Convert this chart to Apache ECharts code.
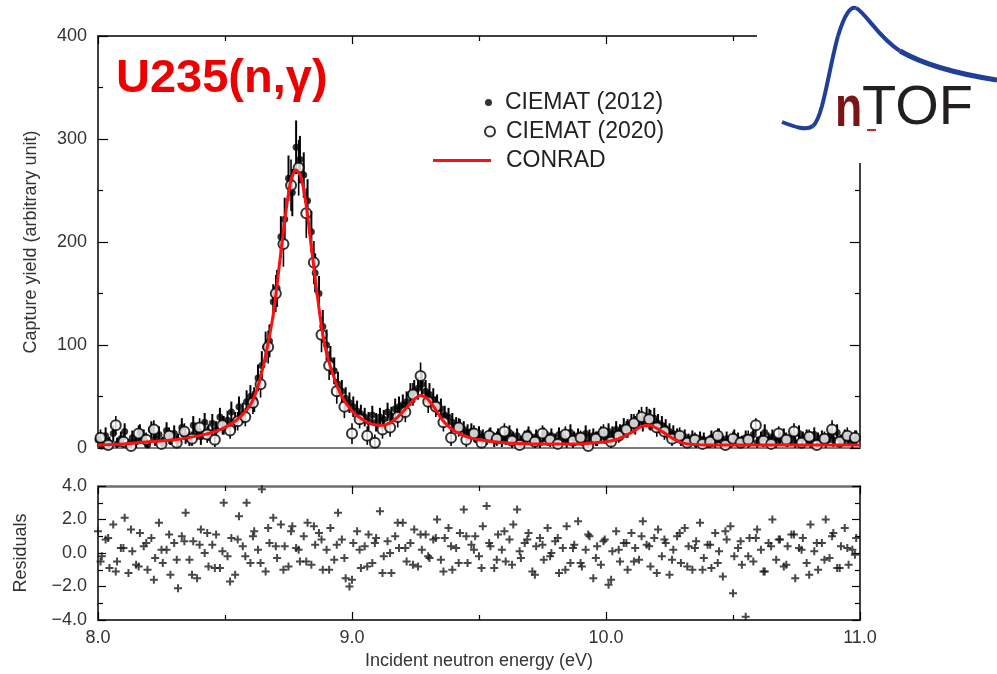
<!DOCTYPE html>
<html>
<head>
<meta charset="utf-8">
<script src="https://cdn.jsdelivr.net/npm/echarts@6/dist/echarts.min.js"></script>
<style>html,body{margin:0;padding:0;background:#fff;}#c{width:997px;height:674px;}</style>
</head>
<body>
<div id="c"></div>
<script>
// ---------- DATA ----------
const titleText = 'U235(n,\u03b3)';
const xTicks = [8.0, 9.0, 10.0, 11.0];
const yTicksTop = [0, 100, 200, 300, 400];
const yTicksRes = [-4.0, -2.0, 0.0, 2.0, 4.0];

const e2012 = [
8.000,8.015,8.030,8.045,8.060,8.075,8.090,8.105,8.120,8.135,
8.150,8.165,8.180,8.195,8.210,8.225,8.240,8.255,8.270,8.285,
8.300,8.315,8.330,8.345,8.360,8.375,8.390,8.405,8.420,8.435,
8.450,8.465,8.480,8.495,8.510,8.525,8.540,8.555,8.570,8.585,
8.600,8.615,8.630,8.645,8.660,8.675,8.690,8.705,8.720,8.735,
8.750,8.765,8.780,8.795,8.810,8.825,8.840,8.855,8.870,8.885,
8.900,8.915,8.930,8.945,8.960,8.975,8.990,9.005,9.020,9.035,
9.050,9.065,9.080,9.095,9.110,9.125,9.140,9.155,9.170,9.185,
9.200,9.215,9.230,9.245,9.260,9.275,9.290,9.305,9.320,9.335,
9.350,9.365,9.380,9.395,9.410,9.425,9.440,9.455,9.470,9.485,
9.500,9.515,9.530,9.545,9.560,9.575,9.590,9.605,9.620,9.635,
9.650,9.665,9.680,9.695,9.710,9.725,9.740,9.755,9.770,9.785,
9.800,9.815,9.830,9.845,9.860,9.875,9.890,9.905,9.920,9.935,
9.950,9.965,9.980,9.995,10.010,10.025,10.040,10.055,10.070,10.085,
10.100,10.115,10.130,10.145,10.160,10.175,10.190,10.205,10.220,10.235,
10.250,10.265,10.280,10.295,10.310,10.325,10.340,10.355,10.370,10.385,
10.400,10.415,10.430,10.445,10.460,10.475,10.490,10.505,10.520,10.535,
10.550,10.565,10.580,10.595,10.610,10.625,10.640,10.655,10.670,10.685,
10.700,10.715,10.730,10.745,10.760,10.775,10.790,10.805,10.820,10.835,
10.850,10.865,10.880,10.895,10.910,10.925,10.940,10.955,10.970,10.985];
const y2012 = [
8,2,12,5,14,4,9,16,3,10,
6,15,11,3,18,9,13,5,17,10,
14,7,20,12,9,22,16,11,25,15,
24,18,30,22,27,35,26,40,34,45,
50,47,68,80,98,104,142,155,205,222,
262,248,292,280,265,240,210,170,150,118,
100,85,75,62,55,48,44,40,36,33,
30,26,32,25,30,28,35,31,38,40,
42,45,52,55,58,62,55,52,47,42,
38,32,30,25,22,20,18,15,16,12,
14,11,9,13,8,12,7,10,15,9,
12,6,10,14,8,11,5,13,9,12,
7,13,10,6,15,9,12,8,14,11,
12,9,14,11,16,13,18,15,20,19,
24,22,28,25,30,27,29,24,22,19,
16,14,12,9,11,7,10,6,9,8,
5,10,7,12,6,9,4,11,8,6,
10,7,13,5,9,15,8,11,6,9,
12,7,10,5,14,9,11,6,13,8,
10,6,12,8,15,7,11,9,5,10];
const err2012 = [
7,6,8,6,8,6,7,8,6,7,
7,8,7,6,8,7,8,6,8,7,
8,7,9,8,7,9,8,8,9,8,
9,8,9,9,9,10,9,10,10,11,
11,12,13,14,15,16,17,18,20,21,
22,23,26,23,22,21,20,19,17,16,
15,14,13,12,11,11,10,10,10,9,
9,9,9,9,9,9,9,9,10,10,
10,10,11,11,11,12,11,11,11,10,
10,9,9,9,8,8,8,8,8,7,
7,7,6,7,7,7,6,7,7,7,
7,6,7,7,6,7,6,7,7,7,
7,7,7,6,8,7,7,6,8,7,
7,7,7,7,8,8,8,8,9,9,
9,9,9,9,10,10,10,9,9,9,
8,8,7,7,7,7,7,7,7,7,
6,7,7,7,6,7,6,7,7,6,
7,6,7,6,7,8,7,7,6,7,
7,6,7,6,8,7,7,6,7,7,
7,6,7,7,8,6,7,7,6,7];

const e2020 = [
8.01,8.04,8.07,8.10,8.13,8.16,8.19,8.22,8.25,8.28,
8.31,8.34,8.37,8.40,8.43,8.46,8.49,8.52,8.55,8.58,
8.61,8.64,8.67,8.70,8.73,8.76,8.79,8.82,8.85,8.88,
8.91,8.94,8.97,9.00,9.03,9.06,9.09,9.12,9.15,9.18,
9.21,9.24,9.27,9.30,9.33,9.36,9.39,9.42,9.45,9.48,
9.51,9.54,9.57,9.60,9.63,9.66,9.69,9.72,9.75,9.78,
9.81,9.84,9.87,9.90,9.93,9.96,9.99,10.02,10.05,10.08,
10.11,10.14,10.17,10.20,10.23,10.26,10.29,10.32,10.35,10.38,
10.41,10.44,10.47,10.50,10.53,10.56,10.59,10.62,10.65,10.68,
10.71,10.74,10.77,10.80,10.83,10.86,10.89,10.92,10.95,10.98];
const y2020 = [
10,3,22,6,2,14,8,18,4,12,
5,16,9,20,13,8,22,17,26,30,
44,62,98,150,198,255,272,228,180,110,
80,55,40,14,28,12,5,18,20,30,
35,52,70,45,40,25,10,20,8,14,
5,12,9,16,7,3,11,6,14,8,
4,13,7,10,2,9,15,6,12,18,
24,30,28,20,16,9,12,5,8,4,
6,12,3,9,5,8,22,7,4,14,
8,16,5,11,3,9,18,6,12,10];
const err2020 = [
8,7,9,7,6,8,7,9,6,8,
7,8,7,9,8,7,9,8,9,9,
11,13,16,18,22,25,27,24,21,17,
14,12,11,10,9,9,8,9,9,10,
10,11,13,11,10,9,8,9,7,8,
6,7,7,8,7,6,7,6,8,7,
6,8,7,7,6,7,8,6,7,8,
9,10,10,9,8,7,8,6,7,6,
6,7,6,7,6,9,7,6,8,7,
7,8,6,7,6,7,9,6,8,7];

const conradE = [8.00,8.10,8.20,8.30,8.40,8.45,8.50,8.55,8.60,8.63,8.66,8.69,8.72,8.74,8.76,8.78,8.80,8.82,8.84,8.86,8.88,8.90,8.93,8.96,9.00,9.04,9.08,9.12,9.16,9.20,9.24,9.27,9.30,9.33,9.36,9.40,9.45,9.50,9.60,9.70,9.80,9.90,9.95,10.00,10.05,10.10,10.14,10.17,10.20,10.24,10.28,10.32,10.40,10.60,10.80,11.00];
const conradY = [3,4,6,8,12,15,20,28,42,60,90,130,190,230,260,270,262,235,195,155,118,92,68,50,36,28,23,22,26,35,46,51,47,37,26,17,11,8,5,4,4,4,5,6,9,15,21,22,19,13,7,4,3,3,3,3];

const r2012 = [
1.3,-0.2,0.8,-0.9,1.7,-0.5,0.3,2.1,-1.2,0.1,
-0.7,1.2,0.4,-1.0,0.9,-0.3,1.8,-0.6,0.2,-1.3,
0.6,-2.1,1.0,2.4,-0.4,0.7,-1.5,1.4,0.0,-0.8,
0.5,1.1,-0.9,3.0,-0.2,0.9,-1.3,2.2,0.4,3.0,
-0.6,1.3,0.2,3.8,-1.1,0.6,2.1,-0.3,1.7,0.4,
-0.8,1.6,0.3,-0.5,1.0,1.8,-0.7,0.5,1.2,-1.0,
0.2,1.5,-0.4,2.4,0.8,-1.5,-2.0,0.6,1.3,-0.9,
0.4,1.1,-0.6,0.9,2.5,-0.2,0.7,-1.2,1.0,0.3,
1.8,-0.5,0.6,1.4,-0.8,0.2,1.1,-0.3,0.8,2.0,
-0.4,0.9,1.5,-1.0,0.3,1.2,2.6,-0.6,0.5,1.0,
-0.2,1.6,2.8,0.4,-0.9,1.1,0.2,-0.5,0.8,1.7,
2.6,-0.3,0.6,1.2,-1.1,0.4,0.9,-0.4,1.5,0.0,
0.7,-1.2,0.3,1.6,-0.6,0.5,1.9,-0.8,0.2,1.0,
-1.5,0.4,-0.7,0.8,-1.9,0.1,1.3,-0.5,0.6,-1.0,
1.2,0.3,-0.4,1.9,0.5,-0.8,0.9,1.4,-0.2,0.6,
-1.3,0.2,1.0,-0.6,1.5,0.4,-1.0,0.7,1.8,-0.3,
0.5,-0.9,1.2,0.1,-1.4,0.8,1.6,-0.2,0.3,-0.7,
-3.8,0.9,-0.5,1.4,0.2,-1.1,0.6,2.0,-0.4,0.8,
-0.8,0.4,1.1,-1.5,0.3,0.9,-0.6,1.7,0.1,-1.0,
0.6,2.0,-0.3,1.2,-0.9,0.4,1.5,-0.7,0.2,0.9];
const r2020 = [
-0.5,0.9,-1.1,0.3,1.4,-0.8,0.6,-1.6,0.2,1.1,
-0.4,0.7,-1.3,0.5,1.2,-0.9,0.1,-1.7,0.8,-0.2,
1.0,-0.6,1.5,0.4,-1.0,1.3,0.2,-0.5,1.6,0.8,
-1.0,0.5,-0.3,-1.6,0.2,-0.8,0.6,-1.2,0.0,1.8,
0.3,-0.7,1.1,-0.2,0.9,-1.1,0.4,-0.6,1.0,0.2,
-0.9,0.6,-0.4,1.3,-0.7,0.1,0.8,-1.3,0.5,-0.2,
0.9,-1.0,0.3,-0.6,1.1,-0.3,0.7,-1.6,0.2,0.6,
-0.5,1.0,0.4,-1.2,0.8,-0.4,1.2,-0.8,0.3,-1.0,
0.5,-0.6,1.3,-2.4,0.7,-0.2,0.9,-1.1,0.4,0.8,
-0.7,1.1,0.2,-1.3,0.6,-0.4,1.0,-0.9,0.3,-0.1];

// ---------- CHART ----------
const FONT = 'Liberation Sans, Arial, Helvetica, sans-serif';
const chart = echarts.init(document.getElementById('c'), null, {renderer: 'canvas'});

function errSeries(name, E, Y, ERR, w) {
  return {
    type: 'custom', name: name, xAxisIndex: 0, yAxisIndex: 0, clip: true, silent: true,
    encode: {x: 0, y: 1},
    data: E.map((e, i) => [e, Y[i], ERR[i]]),
    renderItem: function (params, api) {
      const x = api.value(0), y = api.value(1), d = api.value(2);
      const a = api.coord([x, y - d]), b = api.coord([x, y + d]);
      return {type: 'line', shape: {x1: a[0], y1: a[1], x2: b[0], y2: b[1]},
              style: {stroke: '#000', lineWidth: w}};
    }
  };
}
const PLUS = 'path://M3,0H5V3H8V5H5V8H3V5H0V3H3Z';
const tickFmt1 = v => (v < 0 ? '\u2212' : '') + Math.abs(v).toFixed(1);
const labelStyle = {fontSize: 18, color: '#333', fontFamily: FONT};
const blackLine = {lineStyle: {color: '#000', width: 1.5}, onZero: false};
const tickStyle = {color: '#000', width: 1.2};
const legendText = pad => ({fontSize: 23, color: '#222', fontFamily: FONT, padding: [0, 0, 0, pad]});

const option = {
  animation: false,
  backgroundColor: '#fff',
  grid: [
    {left: 98, right: 137, top: 36, height: 412},
    {left: 98, right: 137, top: 486, height: 134}
  ],
  xAxis: [
    {gridIndex: 0, type: 'value', min: xTicks[0], max: xTicks[xTicks.length-1], interval: 1, position: 'bottom',
     axisLine: {onZero: false, lineStyle: {color: '#7a7a7a', width: 2}}, axisTick: {show: false},
     axisLabel: {show: false}, splitLine: {show: false}},
    {gridIndex: 0, type: 'value', min: xTicks[0], max: xTicks[xTicks.length-1], interval: 1, position: 'top',
     axisLine: blackLine, axisTick: {inside: true, length: 8, lineStyle: tickStyle},
     minorTick: {show: true, splitNumber: 2, length: 5, lineStyle: tickStyle},
     axisLabel: {show: false}, splitLine: {show: false}},
    {gridIndex: 1, type: 'value', min: xTicks[0], max: xTicks[xTicks.length-1], interval: 1, position: 'bottom',
     axisLine: blackLine, axisTick: {inside: true, length: 8, lineStyle: tickStyle},
     minorTick: {show: true, splitNumber: 2, length: 5, lineStyle: tickStyle},
     axisLabel: Object.assign({margin: 9, formatter: v => v.toFixed(1), showMaxLabel: true, showMinLabel: true}, labelStyle),
     splitLine: {show: false},
     name: 'Incident neutron energy (eV)', nameLocation: 'middle', nameGap: 32,
     nameTextStyle: {fontSize: 18, color: '#333', fontFamily: FONT}},
    {gridIndex: 1, type: 'value', min: xTicks[0], max: xTicks[xTicks.length-1], interval: 1, position: 'top',
     axisLine: {onZero: false, lineStyle: {color: '#6e6e6e', width: 2.5}},
     axisTick: {inside: true, length: 8, lineStyle: tickStyle},
     minorTick: {show: true, splitNumber: 2, length: 5, lineStyle: tickStyle},
     axisLabel: {show: false}, splitLine: {show: false}}
  ],
  yAxis: [
    {gridIndex: 0, type: 'value', min: yTicksTop[0], max: yTicksTop[yTicksTop.length-1], interval: 100, position: 'left',
     axisLine: blackLine, axisTick: {inside: true, length: 10, lineStyle: tickStyle},
     minorTick: {show: true, splitNumber: 2, length: 5, lineStyle: tickStyle},
     axisLabel: Object.assign({margin: 11}, labelStyle), splitLine: {show: false},
     name: 'Capture yield (arbitrary unit)', nameLocation: 'middle', nameGap: 58,
     nameTextStyle: {fontSize: 18, color: '#333', fontFamily: FONT}},
    {gridIndex: 0, type: 'value', min: yTicksTop[0], max: yTicksTop[yTicksTop.length-1], interval: 100, position: 'right',
     axisLine: blackLine, axisTick: {inside: true, length: 10, lineStyle: tickStyle},
     minorTick: {show: true, splitNumber: 2, length: 5, lineStyle: tickStyle},
     axisLabel: {show: false}, splitLine: {show: false}},
    {gridIndex: 1, type: 'value', min: yTicksRes[0], max: yTicksRes[yTicksRes.length-1], interval: 2, position: 'left',
     axisLine: blackLine, axisTick: {inside: true, length: 8, lineStyle: tickStyle},
     minorTick: {show: true, splitNumber: 2, length: 5, lineStyle: tickStyle},
     axisLabel: Object.assign({margin: 11, formatter: tickFmt1}, labelStyle), splitLine: {show: false},
     name: 'Residuals', nameLocation: 'middle', nameGap: 68,
     nameTextStyle: {fontSize: 18, color: '#333', fontFamily: FONT}},
    {gridIndex: 1, type: 'value', min: yTicksRes[0], max: yTicksRes[yTicksRes.length-1], interval: 2, position: 'right',
     axisLine: blackLine, axisTick: {inside: true, length: 8, lineStyle: tickStyle},
     minorTick: {show: true, splitNumber: 2, length: 5, lineStyle: tickStyle},
     axisLabel: {show: false}, splitLine: {show: false}}
  ],
  legend: [
    {data: ['CIEMAT (2012)'], left: 485, top: 91, padding: 0, itemWidth: 7, itemHeight: 7, selectedMode: false,
     textStyle: legendText(8)},
    {data: ['CIEMAT (2020)'], left: 484, top: 120, padding: 0, itemWidth: 10, itemHeight: 10, selectedMode: false,
     textStyle: legendText(6)},
    {data: [{name: 'CONRAD', icon: 'rect'}], left: 433, top: 149, padding: 0, itemWidth: 58, itemHeight: 3, selectedMode: false,
     textStyle: legendText(10)}
  ],
  series: [
    errSeries('err2012', e2012, y2012, err2012, 2),
    {type: 'scatter', name: 'CIEMAT (2012)', xAxisIndex: 0, yAxisIndex: 0, symbol: 'circle', symbolSize: 7,
     itemStyle: {color: '#000'}, data: e2012.map((e, i) => [e, y2012[i]]), silent: true},
    errSeries('err2020', e2020, y2020, err2020, 1.6),
    {type: 'scatter', name: 'CIEMAT (2020)', xAxisIndex: 0, yAxisIndex: 0, symbol: 'circle', symbolSize: 10,
     itemStyle: {color: '#fff', borderColor: '#000', borderWidth: 2}, data: e2020.map((e, i) => [e, y2020[i]]), silent: true},
    {type: 'line', name: 'CONRAD', xAxisIndex: 0, yAxisIndex: 0, symbol: 'none', smooth: 0.3,
     lineStyle: {color: '#ff1010', width: 3}, itemStyle: {color: '#ff1010'},
     data: conradE.map((e, i) => [e, conradY[i]]), silent: true, z: 5},
    {type: 'scatter', name: 'res2012', xAxisIndex: 2, yAxisIndex: 2, symbol: PLUS, symbolSize: 8,
     itemStyle: {color: '#1a1a1a'}, data: e2012.map((e, i) => [e, r2012[i]]), silent: true},
    {type: 'scatter', name: 'res2020', xAxisIndex: 2, yAxisIndex: 2, symbol: PLUS, symbolSize: 8,
     itemStyle: {color: '#1a1a1a'}, data: e2020.map((e, i) => [e, r2020[i]]), silent: true}
  ],
  graphic: [
    {type: 'text', x: 116, y: 79, z: 50,
     style: {text: titleText, font: 'bold 47px ' + FONT, fill: '#ee0000', textAlign: 'left', textVerticalAlign: 'middle'}},
    {type: 'rect', z: 100, shape: {x: 757, y: 0, width: 240, height: 163}, style: {fill: '#fff'}},
    {type: 'bezierCurve', z: 101, shape: {x1: 782, y1: 122, cpx1: 795, cpy1: 127, cpx2: 806, cpy2: 131, x2: 813, y2: 126},
     style: {fill: 'none', stroke: '#213f98', lineWidth: 4}},
    {type: 'bezierCurve', z: 101, shape: {x1: 813, y1: 126, cpx1: 823, cpy1: 118, cpx2: 829, cpy2: 68, x2: 838, y2: 36},
     style: {fill: 'none', stroke: '#213f98', lineWidth: 4}},
    {type: 'bezierCurve', z: 101, shape: {x1: 838, y1: 36, cpx1: 845, cpy1: 13, cpx2: 851, cpy2: 6, x2: 856, y2: 8},
     style: {fill: 'none', stroke: '#213f98', lineWidth: 4}},
    {type: 'bezierCurve', z: 101, shape: {x1: 856, y1: 8, cpx1: 866, cpy1: 13, cpx2: 878, cpy2: 37, x2: 900, y2: 51},
     style: {fill: 'none', stroke: '#213f98', lineWidth: 4}},
    {type: 'bezierCurve', z: 101, shape: {x1: 900, y1: 51, cpx1: 926, cpy1: 66, cpx2: 958, cpy2: 74, x2: 997, y2: 80},
     style: {fill: 'none', stroke: '#213f98', lineWidth: 5}},
    {type: 'text', x: 835, y: 110, z: 102, scaleX: 0.77,
     style: {text: 'n', x: 0, y: 0, font: 'bold 58px ' + FONT, fill: '#7a1416', textAlign: 'left', textVerticalAlign: 'middle'}},
    {type: 'text', x: 862, y: 109, z: 102,
     style: {text: 'TOF', font: '56px ' + FONT, fill: '#231f20', textAlign: 'left', textVerticalAlign: 'middle'}},
    {type: 'rect', z: 102, shape: {x: 867, y: 129, width: 9, height: 2}, style: {fill: '#c0282d'}}
  ]
};
chart.setOption(option);
</script>
</body>
</html>
